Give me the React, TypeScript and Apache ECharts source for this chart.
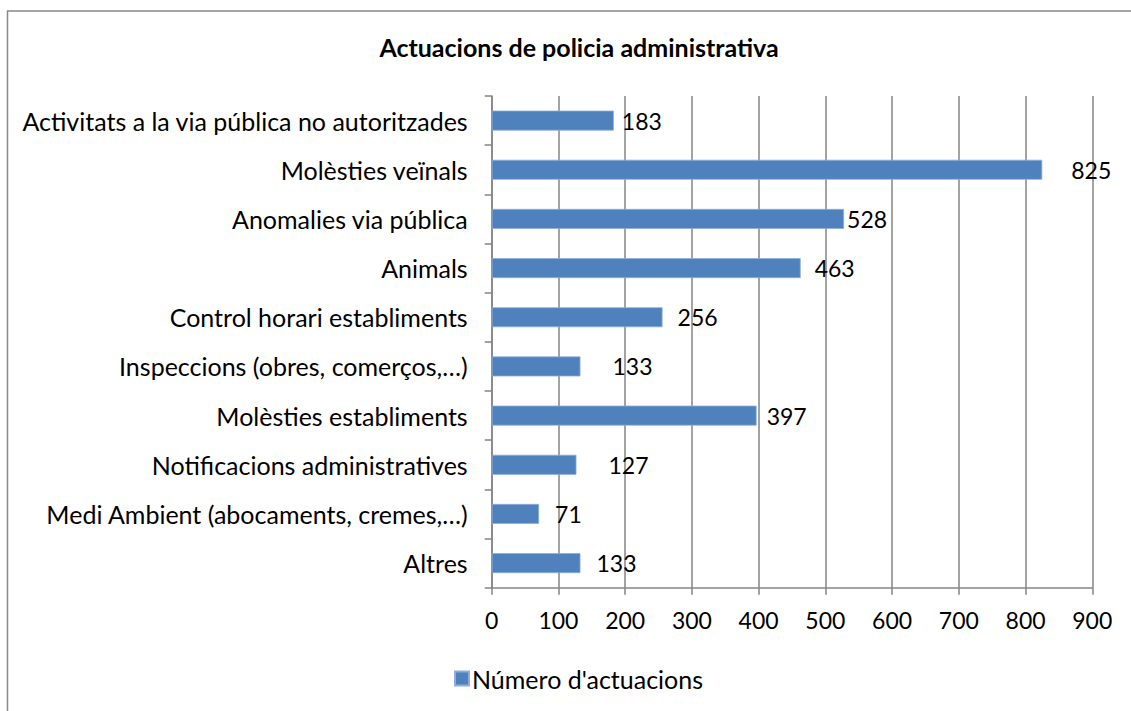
import React, { useEffect, useRef } from "react";
import * as echarts from "echarts";

const categories = [
  "Activitats a la via pública no autoritzades",
  "Molèsties veïnals",
  "Anomalies via pública",
  "Animals",
  "Control horari establiments",
  "Inspeccions (obres, comerços,…)",
  "Molèsties establiments",
  "Notificacions administratives",
  "Medi Ambient (abocaments, cremes,…)",
  "Altres",
];
const values = [183, 825, 528, 463, 256, 133, 397, 127, 71, 133];
const labelShift = [8, 29, 3, 14, 15, 32, 10, 32, 16, 16];
const xTicks = { min: 0, max: 900, interval: 100 };
const seriesName = "Número d'actuacions";
const title = "Actuacions de policia administrativa";

const FONT = "Lato, 'Noto Sans', sans-serif";
const GRAY = "#858585";

export default function App() {
  const ref = useRef<HTMLDivElement>(null);
  useEffect(() => {
    if (!ref.current) return;
    const chart = echarts.init(ref.current, undefined, { renderer: "svg" });
    chart.setOption({
      animation: false,
      backgroundColor: "#ffffff",
      textStyle: { fontFamily: FONT, color: "#000" },
      title: {
        text: title,
        left: 574,
        textAlign: "center",
        top: 29,
        textStyle: { fontFamily: FONT, fontSize: 25, fontWeight: "bold", color: "#000" },
      },
      graphic: [
        {
          type: "rect",
          shape: { x: 7.5, y: 11, width: 1140, height: 720 },
          style: { fill: "none", stroke: "#888888", lineWidth: 1.5 },
          silent: true,
          z: -1,
        },
      ],
      legend: {
        left: 449,
        top: 661,
        itemWidth: 14,
        itemHeight: 14,
        icon: "rect",
        itemGap: 8,
        textStyle: { fontFamily: FONT, fontSize: 25, color: "#000", padding: [0, 0, 0, -2] },
        data: [seriesName],
      },
      grid: { left: 491.7, right: 38.7, top: 96, bottom: 123.3, containLabel: false },
      xAxis: {
        type: "value",
        min: xTicks.min,
        max: xTicks.max,
        interval: xTicks.interval,
        axisLine: { show: true, lineStyle: { color: GRAY, width: 1.5 } },
        axisTick: { show: true, length: 7, lineStyle: { color: GRAY, width: 1.5 } },
        axisLabel: { fontFamily: FONT, fontSize: 23, color: "#000", margin: 21 },
        splitLine: { show: true, lineStyle: { color: GRAY, width: 1.5 } },
      },
      yAxis: {
        type: "category",
        inverse: true,
        data: categories,
        axisLine: { show: true, lineStyle: { color: GRAY, width: 1.5 } },
        axisTick: { show: true, length: 7, lineStyle: { color: GRAY, width: 1.5 } },
        axisLabel: { fontFamily: FONT, fontSize: 25, color: "#000", margin: 24 },
        splitLine: { show: false },
      },
      series: [
        {
          name: seriesName,
          type: "bar",
          barWidth: 20,
          itemStyle: { color: "#4F81BD", borderColor: "#8FAEDA", borderWidth: 0.8 },
          label: {
            show: true,
            position: "right",
            distance: 0,
            fontFamily: FONT,
            fontSize: 23,
            color: "#000",
          },
          data: values.map((v, i) => ({
            value: v,
            label: { offset: [labelShift[i], 0] },
          })),
        },
      ],
    });
    return () => chart.dispose();
  }, []);
  return (
    <div
      ref={ref}
      style={{ position: "fixed", left: 0, top: 0, width: 1131, height: 711, background: "#fff" }}
    />
  );
}
